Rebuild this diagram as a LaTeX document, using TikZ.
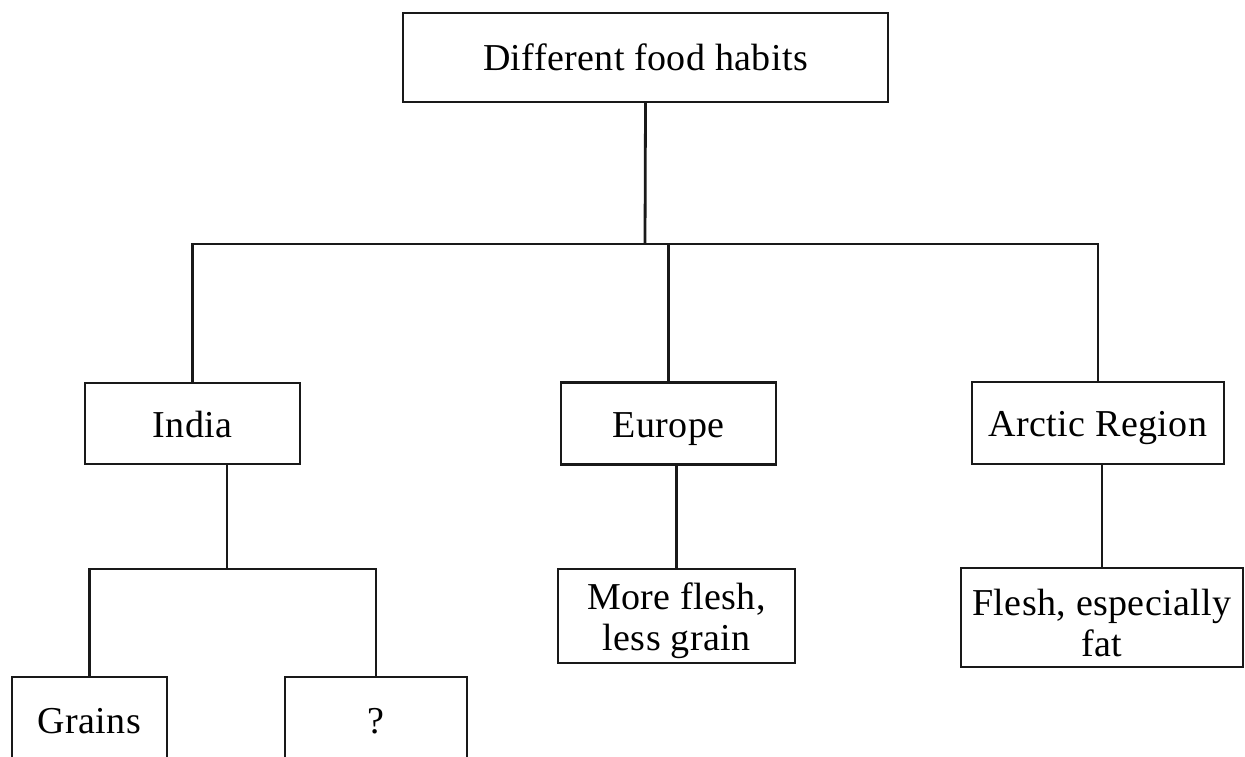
\documentclass[tikz,border=0pt]{standalone}
\usepackage{fontspec}
\setmainfont[LetterSpace=1]{Liberation Serif}
\begin{document}
\begin{tikzpicture}[x=1pt,y=-1pt,
  box/.style={draw=black!90,line width=2.4pt,inner sep=0pt,align=center,
    font=\fontsize{38}{40}\selectfont},
  one/.style={box,text height=30pt,text depth=3pt},
  txt/.style={inner sep=0pt,align=center,font=\fontsize{38}{41}\selectfont},
  link/.style={draw=black!90,line width=2.8pt}]
\useasboundingbox (0,0) rectangle (1245,757);
\clip (0,0) rectangle (1245,757);
% boxes
\node[one,minimum width=485pt,minimum height=89pt] (top) at (645.5,57.5) {Different food habits};
\node[one,minimum width=215pt,minimum height=81pt] (india) at (192.5,423.5) {India};
\node[one,minimum width=215pt,minimum height=82pt] (europe) at (668.5,423.5) {Europe};
\node[one,minimum width=252pt,minimum height=82pt] (arctic) at (1098,423) {Arctic Region};
\node[box,minimum width=237pt,minimum height=94pt] (euchild) at (676.5,616) {};
\node[txt] (euchildtext) at ([yshift=-5pt]euchild.center) {More flesh,\\less grain};
\node[box,minimum width=282pt,minimum height=99pt] (archild) at (1102,617.5) {};
\node[txt] (archildtext) at ([yshift=-5pt]archild.center) {Flesh, especially\\fat};
\node[one,minimum width=155pt,minimum height=86pt] (grains) at (89.5,720) {Grains};
\node[one,minimum width=182pt,minimum height=86pt] (q) at (376,720) {?};
% connector junctions
\coordinate (hb) at (645,244);
\coordinate (ib) at (227,569);
% connectors
\draw[link] (top.south) -- (hb);
\draw[link] (india.north) |- (hb) -| (arctic.north);
\draw[link] (europe.north) -- (europe.north |- hb);
\draw[link] (india.south -| ib) -- (ib);
\draw[link] (grains.north) |- (ib) -| (q.north);
\draw[link] (euchild.north) -- (euchild.north |- europe.south);
\draw[link] (archild.north) -- (archild.north |- arctic.south);
\end{tikzpicture}
\end{document}
